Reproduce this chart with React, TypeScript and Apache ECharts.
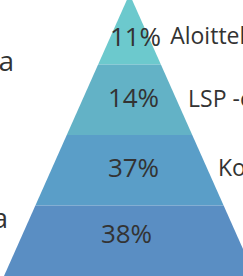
import React, { useEffect, useRef } from "react";
import * as echarts from "echarts";

// Pyramid tiers from top to bottom
const tierNames = ["Aloittelija", "LSP -osaaja", "Kokenut", "Asiantuntija"];
const tierShares = [11, 14, 37, 38]; // percent shown inside each tier
const tierLevels = [1, 2, 3, 4]; // pyramid step (width) of each tier
const tierColors = ["#6cc9cd", "#63b2c6", "#5a9ec8", "#5a8ec3"];
const sideTexts = ["sa", "a"];

const FONT = "'Open Sans', 'Noto Sans', sans-serif";
const INK = "#333333";

function shifted(txt: string, dy: number, dx = 0) {
  let line = `{v|${txt}}`;
  if (dx > 0) line = `{h| }` + line;
  if (dx < 0) line = line + `{h| }`;
  if (dy > 0) return `{s| }\n${line}`;
  if (dy < 0) return `${line}\n{s| }`;
  return line;
}

export default function App() {
  const ref = useRef<HTMLDivElement>(null);
  useEffect(() => {
    if (!ref.current) return;
    const chart = echarts.init(ref.current, null, { renderer: "svg" });
    const geom = {
      type: "funnel" as const,
      sort: "ascending" as const,
      left: 4,
      top: -6,
      width: 251,
      height: 282,
      min: 0,
      max: 4,
      minSize: "0%",
      maxSize: "100%",
      gap: 0,
      silent: true,
      emphasis: { disabled: true },
    };
    const insideShift = [7, -3, -3, -8];
    const insideShiftX = [6, 4, 4, -3];
    const rightShift = [6, -2, -3, 0];
    const lineLen = [20, 6.5, 5, 5];
    chart.setOption({
      animation: false,
      series: [
        {
          ...geom,
          data: tierNames.map((n, i) => ({
            name: n,
            value: tierLevels[i],
            itemStyle: { color: tierColors[i], borderWidth: 0 },
            label: {
              show: true,
              position: "inside",
              formatter: () => shifted(tierShares[i] + "%", insideShift[i], insideShiftX[i]),
              rich: {
                v: { color: INK, fontSize: 26, fontFamily: FONT },
                s: { fontSize: 1, lineHeight: Math.max(1, Math.abs(insideShift[i]) * 2) },
                h: { fontSize: 1, width: Math.max(1, Math.abs(insideShiftX[i]) * 2) },
              },
            },
          })),
          labelLine: { show: false },
        },
        {
          ...geom,
          z: 3,
          data: tierNames.map((n, i) => ({
            name: n,
            value: tierLevels[i],
            itemStyle: { color: "rgba(0,0,0,0)", borderWidth: 0 },
            labelLine: { show: false, length: lineLen[i] },
            label: {
              show: i < 3,
              position: "right",
              formatter: () => shifted(n, rightShift[i]),
              rich: {
                v: { color: INK, fontSize: 23, fontFamily: FONT },
                s: { fontSize: 1, lineHeight: Math.max(1, Math.abs(rightShift[i]) * 2) },
              },
            },
          })),
        },
      ],
      graphic: [
        {
          type: "text",
          x: 14,
          y: 60,
          style: {
            text: sideTexts[0],
            fontSize: 28,
            fontFamily: FONT,
            fill: INK,
            textAlign: "right",
            textVerticalAlign: "middle",
          },
        },
        {
          type: "text",
          x: 8,
          y: 217,
          style: {
            text: sideTexts[1],
            fontSize: 28,
            fontFamily: FONT,
            fill: INK,
            textAlign: "right",
            textVerticalAlign: "middle",
          },
        },
      ],
    });
    return () => chart.dispose();
  }, []);
  return (
    <div
      ref={ref}
      style={{ position: "fixed", left: 0, top: 0, width: 243, height: 276, background: "#ffffff" }}
    />
  );
}
